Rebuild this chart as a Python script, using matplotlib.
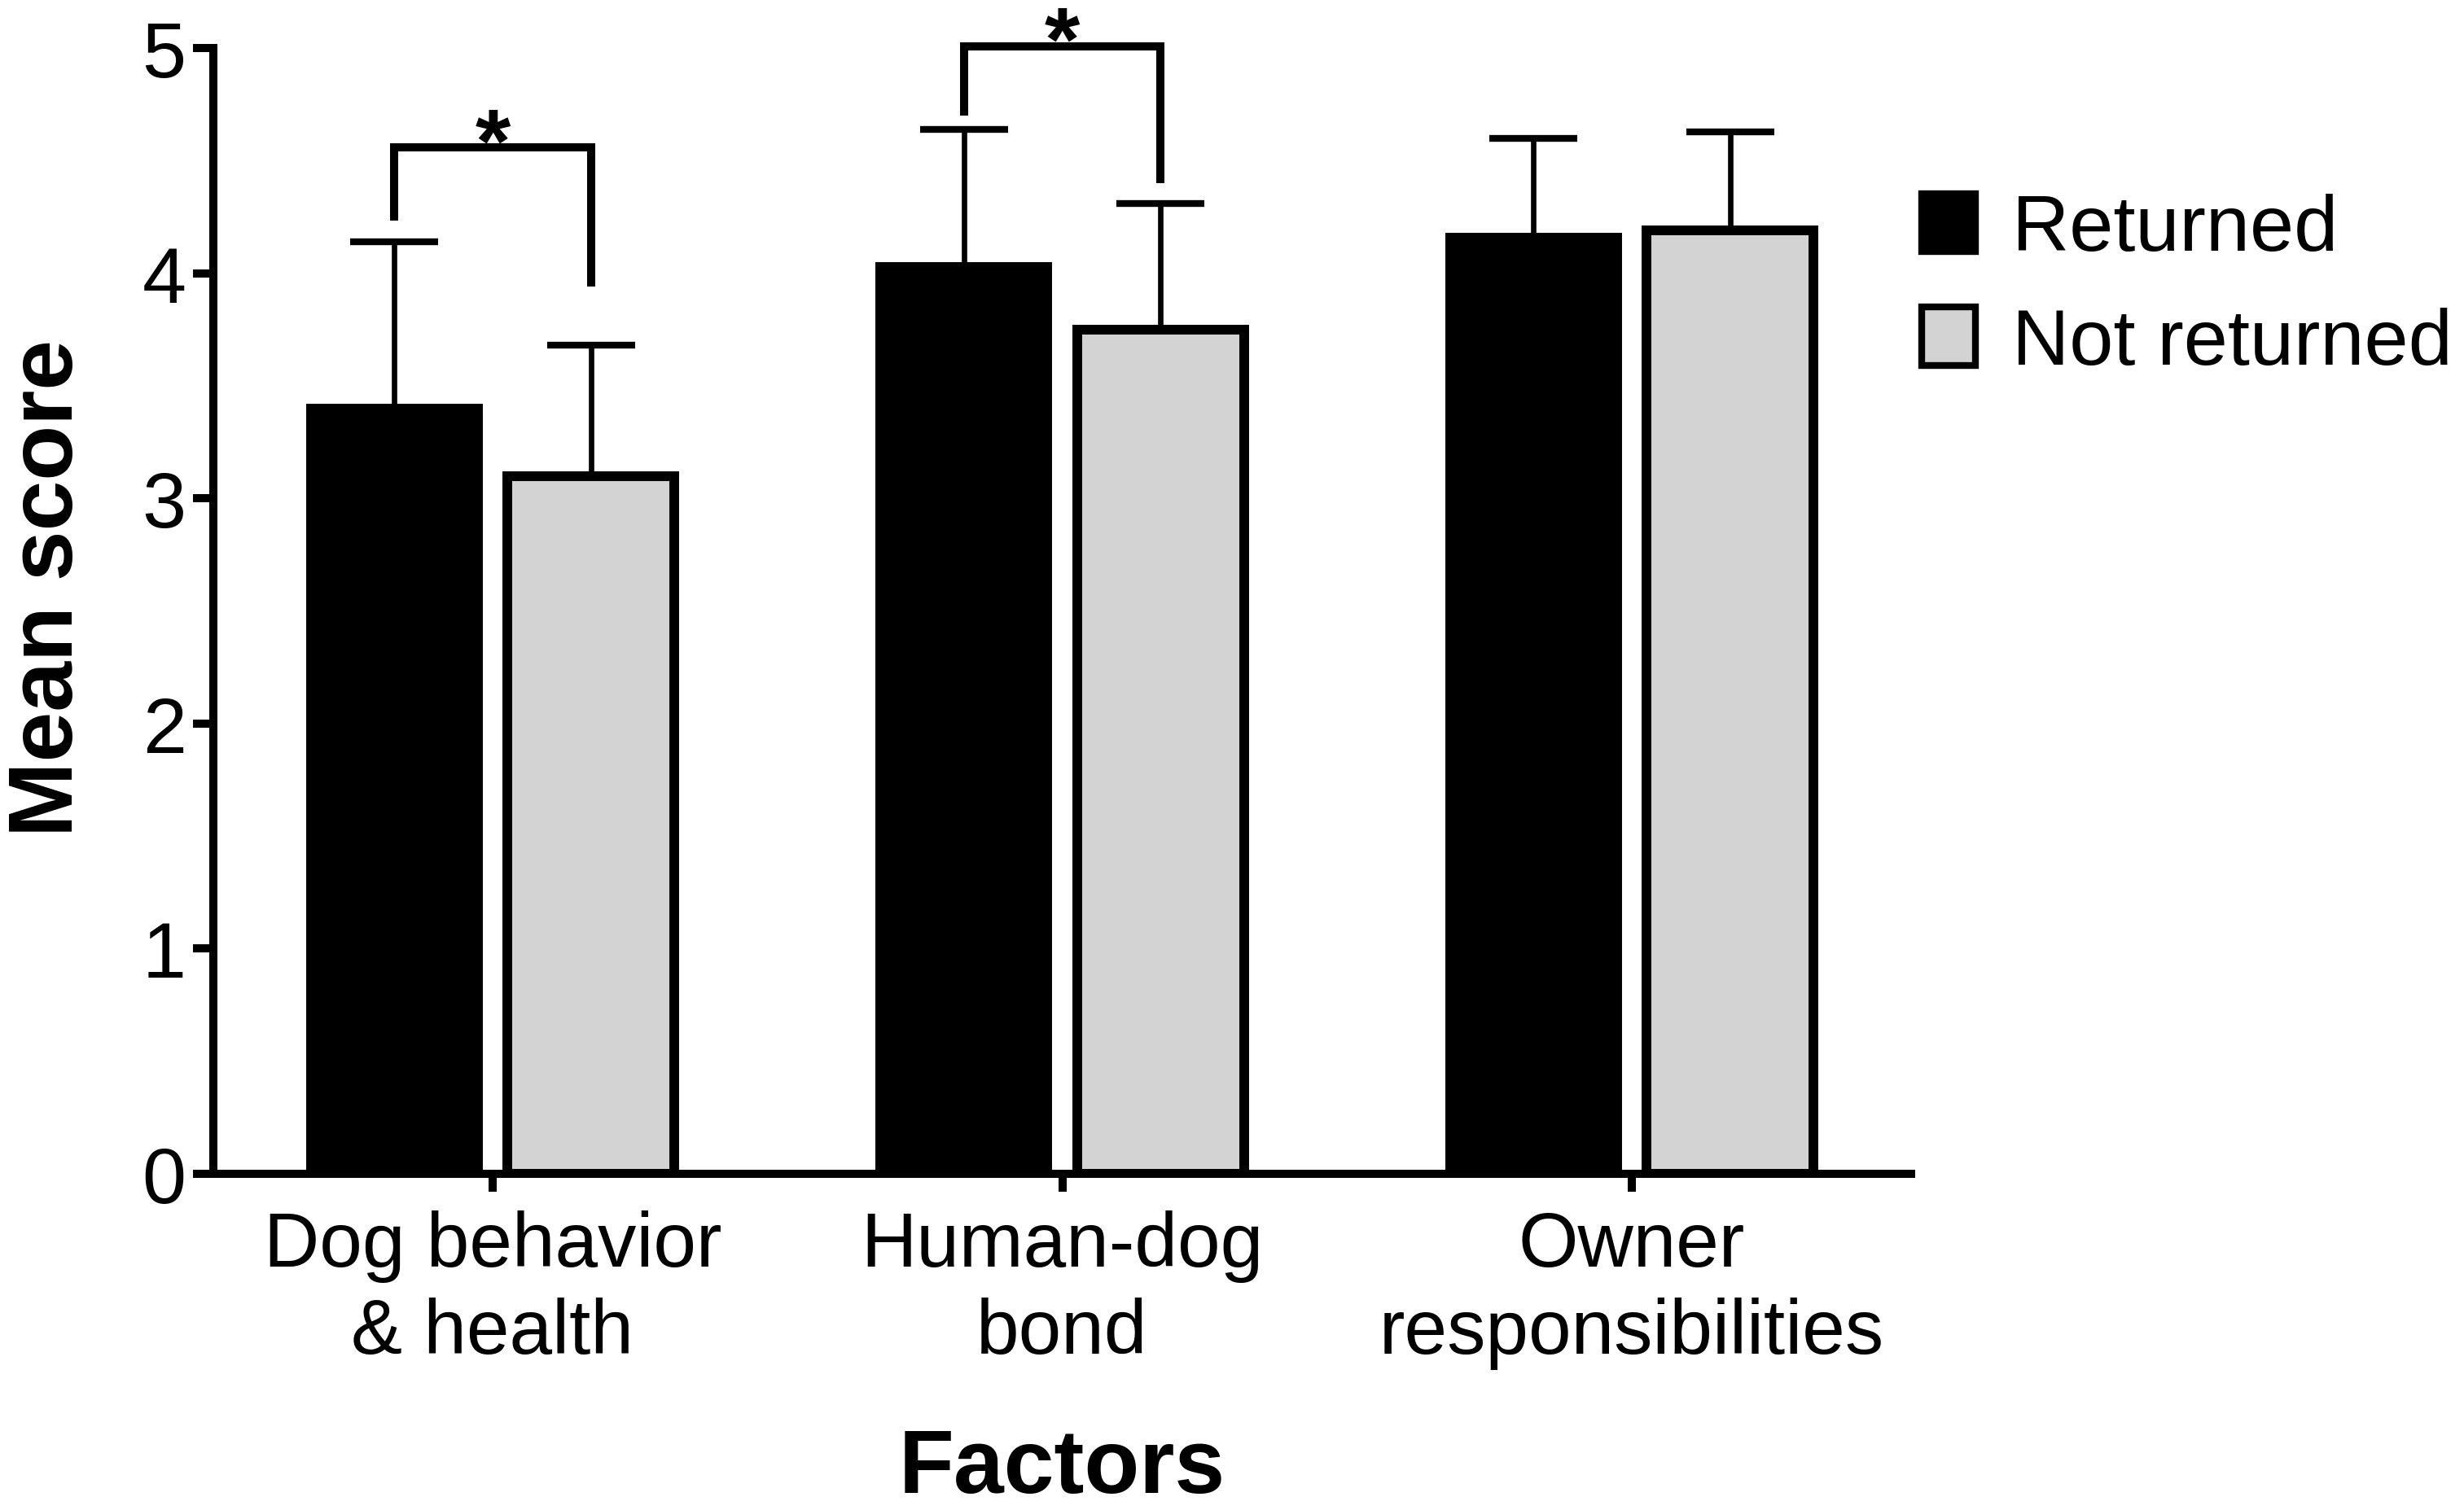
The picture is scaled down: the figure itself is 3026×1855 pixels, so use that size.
import numpy as np
import matplotlib
matplotlib.use("Agg")
import matplotlib.pyplot as plt

plt.rcParams['font.family'] = ['Liberation Sans', 'DejaVu Sans']

# ---------------- datos ----------------
factors = ["Dog behavior\n& health", "Human-dog\nbond", "Owner\nresponsibilities"]
groups = ["Returned", "Not returned"]
mean_returned = [3.40, 4.03, 4.16]
mean_not_returned = [3.10, 3.75, 4.19]
err_returned = [0.74, 0.61, 0.44]
err_not_returned = [0.58, 0.56, 0.44]

# corchetes de significación: (factor, y techo, pata izq, pata der)
sig_factor = [0, 1]
sig_top = [4.56, 5.01]
sig_left = [4.235, 4.70]
sig_right = [3.94, 4.40]
sig_label = ["*", "*"]

# ---------------- figura ----------------
fig = plt.figure(figsize=(15.13, 9.28), dpi=200)
ax = fig.add_axes([0.0866, 0.2225, 0.689, 0.745])

x = np.arange(len(factors))
width = 0.293
off = 0.1725
edge_lw = 4.3

ax.bar(x - off, mean_returned, width, color="black", edgecolor="black",
       linewidth=edge_lw, zorder=2, label=groups[0])
ax.bar(x + off, mean_not_returned, width, color="#d3d3d3", edgecolor="black",
       linewidth=edge_lw, zorder=2, label=groups[1])

zeros = np.zeros(len(factors))
ax.errorbar(x - off, mean_returned, yerr=[zeros, err_returned], fmt="none",
            ecolor="black", elinewidth=2.4, capsize=19.3, capthick=3, zorder=1)
ax.errorbar(x + off, mean_not_returned, yerr=[zeros, err_not_returned], fmt="none",
            ecolor="black", elinewidth=2.4, capsize=19.3, capthick=3, zorder=1)

for i, top, yl, yr, lab in zip(sig_factor, sig_top, sig_left, sig_right, sig_label):
    x1, x2 = i - off, i + off
    ax.plot([x1, x1, x2, x2], [yl, top, top, yr], color="black", lw=3.6,
            solid_joinstyle="miter", solid_capstyle="butt", clip_on=False, zorder=3)
    ax.text(i, top - 0.105, lab, ha="center", va="baseline", fontsize=40,
            fontweight="bold", clip_on=False)

ax.set_xlim(-0.49, 2.49)
ax.set_ylim(0, 5)
ax.set_yticks([0, 1, 2, 3, 4, 5])
ax.set_xticks(x)
ax.set_xticklabels(factors, fontsize=34, linespacing=1.25)
ax.tick_params(axis="y", labelsize=35, width=3.6, length=9, pad=3)
ax.tick_params(axis="x", width=3.6, length=8, pad=8)

for s in ["top", "right"]:
    ax.spines[s].set_visible(False)
for s in ["left", "bottom"]:
    ax.spines[s].set_linewidth(3.6)

ax.set_ylabel("Mean score", fontsize=40, fontweight="bold", va="center")
ax.yaxis.set_label_coords(-0.097, 0.521)
ax.set_xlabel("Factors", fontsize=40, fontweight="bold")
ax.xaxis.set_label_coords(0.5, -0.224)

leg = fig.legend(loc="upper left", bbox_to_anchor=(0.780, 0.8716), frameon=False,
                 fontsize=35, handlelength=0.68, handleheight=0.76,
                 handletextpad=0.46, labelspacing=0.51, borderpad=0, borderaxespad=0)
for p in leg.get_patches():
    p.set_linewidth(3)

fig.savefig("out.png", dpi=200)
